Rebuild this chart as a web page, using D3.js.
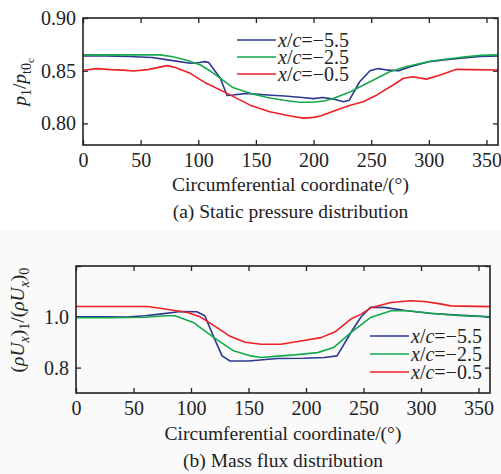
<!DOCTYPE html>
<html>
<head>
<meta charset="utf-8">
<script src="https://cdn.jsdelivr.net/npm/d3@7"></script>
<style>
  body { margin: 0; background: #fff; }
  svg { display: block; font-family: "Liberation Serif", "Times New Roman", serif; }
  .axis path { display: none; }
  .axis line { stroke: #222; stroke-width: 1.3; }
  .axis text { font-size: 20px; fill: #222; font-family: "Liberation Serif", serif; }
  .frame { fill: none; stroke: #222; stroke-width: 1.6; }
  .curve { fill: none; stroke-width: 1.6; stroke-linejoin: round; }
  .lbl { font-size: 19.5px; fill: #222; }
  .leg { font-size: 20px; fill: #222; }
</style>
</head>
<body>
<svg id="chart" width="501" height="474"></svg>
<script>
// series names and colours
const seriesNames = ['x/c=\u22125.5', 'x/c=\u22122.5', 'x/c=\u22120.5'];
const seriesColors = ['#2b3990', '#16a84d', '#ed2024'];

// (a) static pressure p1/pt0c
const pAngle55 = [0, 20, 40, 60, 75, 93, 100, 106, 109, 119, 125, 130, 142, 160, 175, 190, 200, 208, 218, 226, 231, 240, 249, 256, 265, 274, 284, 300, 315, 330, 345, 360];
const pValue55 = [0.864, 0.864, 0.8635, 0.8625, 0.860, 0.857, 0.8575, 0.8586, 0.8577, 0.843, 0.8265, 0.827, 0.8285, 0.827, 0.826, 0.8245, 0.8235, 0.8245, 0.823, 0.8205, 0.822, 0.8395, 0.850, 0.852, 0.8505, 0.850, 0.8538, 0.8585, 0.8605, 0.862, 0.8635, 0.864];
const pAngle25 = [0, 20, 40, 67, 78, 90, 102, 110, 119, 130, 145, 160, 174, 188, 200, 210, 217, 232, 249, 266, 281, 301, 330, 345, 360];
const pValue25 = [0.865, 0.865, 0.865, 0.865, 0.8633, 0.860, 0.8554, 0.850, 0.843, 0.834, 0.8285, 0.8245, 0.822, 0.820, 0.820, 0.8215, 0.8237, 0.830, 0.8395, 0.849, 0.854, 0.859, 0.863, 0.8645, 0.865];
const pAngle05 = [0, 12, 24, 35, 44, 56, 73, 80, 93, 107, 125, 145, 162, 180, 191, 200, 206, 220, 232, 243, 255, 269, 278, 286, 298, 310, 324, 336, 360];
const pValue05 = [0.8505, 0.852, 0.851, 0.8505, 0.8497, 0.851, 0.8548, 0.853, 0.8475, 0.838, 0.8285, 0.8173, 0.811, 0.807, 0.805, 0.8057, 0.807, 0.8126, 0.8173, 0.8205, 0.827, 0.8364, 0.8428, 0.8443, 0.842, 0.846, 0.8513, 0.851, 0.8507];

// (b) mass flux (rhoUx)1/(rhoUx)0
const mAngle55 = [0, 25, 44, 60, 73, 91, 105, 112, 120, 127, 134, 150, 175, 198, 216, 227, 240, 248, 256, 268, 288, 309, 332, 360];
const mValue55 = [1.0, 1.0, 0.999, 1.004, 1.0106, 1.021, 1.0197, 1.004, 0.918, 0.846, 0.826, 0.826, 0.8356, 0.837, 0.840, 0.846, 0.945, 1.0, 1.037, 1.037, 1.024, 1.013, 1.0066, 1.0];
const mAngle25 = [0, 30, 60, 79, 86, 102, 120, 137, 152, 161, 175, 190, 210, 224, 239, 256, 274, 288, 309, 332, 360];
const mValue25 = [0.996, 0.996, 0.998, 1.004, 1.004, 0.978, 0.918, 0.866, 0.846, 0.840, 0.845, 0.850, 0.859, 0.879, 0.938, 0.997, 1.024, 1.024, 1.014, 1.005, 0.999];
const mAngle05 = [0, 30, 62, 79, 97, 108, 120, 134, 147, 161, 178, 193, 213, 225, 239, 248, 257, 274, 291, 303, 318, 326, 360];
const mValue05 = [1.0406, 1.0406, 1.0406, 1.030, 1.017, 1.0, 0.965, 0.923, 0.900, 0.892, 0.892, 0.903, 0.918, 0.940, 0.991, 1.0106, 1.037, 1.0565, 1.063, 1.060, 1.050, 1.043, 1.040];

const xTicks = [0, 50, 100, 150, 200, 250, 300, 350];
const pTicks = [0.80, 0.85, 0.90];
const mTicks = [0.8, 1.0, 1.2];

const svg = d3.select('#chart');

const zip = (xs, ys) => xs.map((d, i) => [d, ys[i]]);

const drawPanel = function (opt) {
  const {left, right, top, bottom} = opt.box;
  const g = svg.append('g');
  const x = d3.scaleLinear().domain([0, 360]).range([left, right]);
  const y = d3.scaleLinear().domain(opt.yDomain).range([bottom, top]);

  g.append('g').attr('class', 'axis')
      .attr('transform', `translate(0,${bottom})`)
      .call(d3.axisBottom(x).tickValues(xTicks).tickSizeInner(-5).tickSizeOuter(0).tickPadding(8));
  g.append('g').attr('class', 'axis')
      .attr('transform', `translate(0,${top})`)
      .call(d3.axisTop(x).tickValues(xTicks).tickSizeInner(-5).tickSizeOuter(0).tickFormat(''));
  g.append('g').attr('class', 'axis')
      .attr('transform', `translate(${left},0)`)
      .call(d3.axisLeft(y).tickValues(opt.yTicks).tickSizeInner(-5).tickSizeOuter(0).tickPadding(7).tickFormat(opt.yFormat));
  g.append('g').attr('class', 'axis')
      .attr('transform', `translate(${right},0)`)
      .call(d3.axisRight(y).tickValues(opt.yTicks).tickSizeInner(-5).tickSizeOuter(0).tickFormat(''));

  const line = d3.line().x(d => x(d[0])).y(d => y(d[1]));
  opt.series.forEach((s, i) => {
    g.append('path').attr('class', 'curve')
        .attr('stroke', seriesColors[i])
        .attr('d', line(s));
  });

  g.append('rect').attr('class', 'frame')
      .attr('x', left).attr('y', top)
      .attr('width', right - left).attr('height', bottom - top);

  // legend
  const lg = g.append('g');
  seriesNames.forEach((name, i) => {
    const ly = opt.legend.y + i * opt.legend.step;
    lg.append('line')
        .attr('x1', opt.legend.x).attr('x2', opt.legend.x + 39)
        .attr('y1', ly).attr('y2', ly)
        .attr('stroke', seriesColors[i]).attr('stroke-width', 1.6);
    const t = lg.append('text').attr('class', 'leg')
        .attr('x', opt.legend.x + 41).attr('y', ly + 6.5);
    t.append('tspan').attr('font-style', 'italic').text('x');
    t.append('tspan').text('/');
    t.append('tspan').attr('font-style', 'italic').text('c');
    t.append('tspan').text(name.slice(3));
  });

  const cx = (left + right) / 2;
  svg.append('text').attr('class', 'lbl')
      .attr('x', cx).attr('y', opt.xLabelY)
      .attr('text-anchor', 'middle')
      .text('Circumferential coordinate/(\u00b0)');
  svg.append('text').attr('class', 'lbl')
      .attr('x', cx).attr('y', opt.captionY)
      .attr('text-anchor', 'middle')
      .text(opt.caption);

  return {x, y};
};

// soft grey backdrop of the lower figure
svg.append('rect').attr('x', 0).attr('y', 230).attr('width', 501).attr('height', 244).attr('fill', '#fafafa');

drawPanel({
  box: {left: 83, right: 498, top: 18, bottom: 145},
  yDomain: [0.7795, 0.90],
  yTicks: pTicks,
  yFormat: d3.format('.2f'),
  series: [zip(pAngle55, pValue55), zip(pAngle25, pValue25), zip(pAngle05, pValue05)],
  legend: {x: 237, y: 40, step: 17},
  xLabelY: 191,
  captionY: 218,
  caption: '(a) Static pressure distribution'
});

drawPanel({
  box: {left: 76, right: 490, top: 266, bottom: 393},
  yDomain: [0.7, 1.2],
  yTicks: mTicks,
  yFormat: d => d >= 1.1 ? '' : d3.format('.1f')(d),
  series: [zip(mAngle55, mValue55), zip(mAngle25, mValue25), zip(mAngle05, mValue05)],
  legend: {x: 370, y: 336, step: 18},
  xLabelY: 440,
  captionY: 467,
  caption: '(b) Mass flux distribution'
});

// y axis titles
const yt1 = svg.append('text').attr('class', 'lbl')
    .attr('transform', 'translate(26,82) rotate(-90)')
    .attr('text-anchor', 'middle').attr('font-size', 21);
yt1.append('tspan').attr('font-style', 'italic').text('p');
yt1.append('tspan').attr('font-size', 14).attr('dy', 5).text('1');
yt1.append('tspan').attr('dy', -5).text('/');
yt1.append('tspan').attr('font-style', 'italic').text('p');
yt1.append('tspan').attr('font-size', 14).attr('dy', 5).text('t0');
yt1.append('tspan').attr('font-size', 11).attr('dy', 3).text('c');

const yt2 = svg.append('text').attr('class', 'lbl')
    .attr('transform', 'translate(24,320) rotate(-90)')
    .attr('text-anchor', 'middle').attr('font-size', 21);
yt2.append('tspan').text('(');
yt2.append('tspan').attr('font-style', 'italic').text('\u03c1U');
yt2.append('tspan').attr('font-style', 'italic').attr('font-size', 14).attr('dy', 5).text('x');
yt2.append('tspan').attr('dy', -5).text(')');
yt2.append('tspan').attr('font-size', 14).attr('dy', 5).text('1');
yt2.append('tspan').attr('dy', -5).text('/(');
yt2.append('tspan').attr('font-style', 'italic').text('\u03c1U');
yt2.append('tspan').attr('font-style', 'italic').attr('font-size', 14).attr('dy', 5).text('x');
yt2.append('tspan').attr('dy', -5).text(')');
yt2.append('tspan').attr('font-size', 14).attr('dy', 5).text('0');
</script>
</body>
</html>
